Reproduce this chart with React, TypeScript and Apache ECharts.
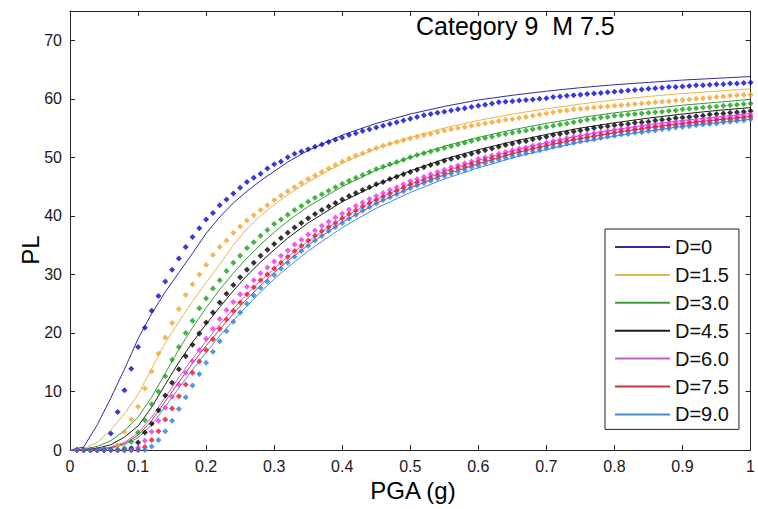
import React, { useEffect, useRef } from "react";
import * as echarts from "echarts";

// Legend / series names
const SERIES_NAMES = ["D=0", "D=1.5", "D=3.0", "D=4.5", "D=6.0", "D=7.5", "D=9.0"];
const LINE_COLORS = ["#2e2e9e", "#e9b44a", "#3a9a3a", "#1e1e1e", "#c45ccc", "#c83a3a", "#4a8ad0"];
const MARK_COLORS = ["#0808cc", "#f0a530", "#17a017", "#000000", "#f02ef0", "#e8142c", "#2a80e0"];

// x positions (PGA, g)
const LINE_X = [0, 0.02, 0.04, 0.06, 0.08, 0.1, 0.12, 0.14, 0.16, 0.18, 0.2, 0.22, 0.24, 0.26, 0.28, 0.3, 0.32, 0.35, 0.4, 0.45, 0.5, 0.55, 0.6, 0.65, 0.7, 0.75, 0.8, 0.85, 0.9, 0.95, 1.0];
const MARK_X = Array.from({ length: 100 }, (_, i) => Math.round((i + 1)) / 100);

// Solid curves (PL)
const LINE_D0 = [0, 0.5, 4.3, 8.9, 13.8, 19.0, 23.3, 27.0, 30.3, 33.6, 37.0, 39.8, 42.2, 44.2, 46.0, 47.6, 49.2, 51.2, 53.8, 55.8, 57.4, 58.7, 59.8, 60.6, 61.3, 61.9, 62.4, 62.8, 63.2, 63.5, 63.8];
const LINE_D15 = [0, 0.2, 1.3, 3.4, 6.2, 9.5, 13.9, 18.3, 21.9, 25.4, 28.6, 31.7, 35.0, 37.8, 40.0, 41.9, 43.6, 45.8, 49.0, 51.5, 53.4, 55.0, 56.3, 57.4, 58.3, 59.1, 59.8, 60.4, 60.9, 61.3, 61.7];
const LINE_D30 = [0, 0.1, 0.6, 1.6, 3.3, 5.6, 9.0, 13.1, 17.2, 20.9, 24.3, 27.4, 30.2, 32.8, 35.1, 37.2, 39.1, 41.6, 45.0, 47.8, 50.0, 51.9, 53.4, 54.7, 55.8, 56.8, 57.6, 58.3, 58.9, 59.4, 59.9];
const LINE_D45 = [0, 0, 0.3, 0.9, 2.2, 4.1, 7.3, 11.2, 15.0, 18.4, 21.5, 24.4, 27.2, 29.8, 32.1, 34.2, 36.2, 38.8, 42.4, 45.3, 47.7, 49.7, 51.3, 52.7, 53.9, 55.0, 55.9, 56.7, 57.4, 58.0, 58.5];
const LINE_D60 = [0, 0, 0.1, 0.5, 1.3, 2.9, 5.6, 9.0, 12.4, 15.6, 18.6, 21.4, 24.1, 26.6, 28.9, 31.0, 33.0, 35.7, 39.6, 42.8, 45.4, 47.6, 49.5, 51.1, 52.5, 53.7, 54.7, 55.6, 56.3, 56.9, 57.5];
const LINE_D75 = [0, 0, 0.1, 0.4, 1.1, 2.5, 5.0, 8.3, 11.6, 14.8, 17.8, 20.6, 23.3, 25.8, 28.1, 30.3, 32.3, 35.0, 38.9, 42.1, 44.8, 47.0, 48.9, 50.6, 52.0, 53.2, 54.2, 55.1, 55.8, 56.4, 57.0];
const LINE_D90 = [0, 0, 0.1, 0.3, 0.9, 2.1, 4.3, 7.4, 10.6, 13.7, 16.7, 19.5, 22.1, 24.6, 27.0, 29.2, 31.2, 34.0, 38.0, 41.3, 44.0, 46.3, 48.2, 49.9, 51.3, 52.6, 53.6, 54.5, 55.3, 55.9, 56.5];

// Diamond markers (PL at PGA = 0.01 ... 1.00)
const MARK_D0 = [
  0, 0, 0, 0, 0, 2.8, 6.5, 10.2, 13.9, 17.6,
  20.9, 23.8, 26.3, 28.8, 30.8, 32.7, 34.7, 36.4, 37.9, 39.4,
  40.5, 41.8, 42.8, 43.8, 44.8, 45.8, 46.5, 47.2, 48.1, 48.8,
  49.3, 50.0, 50.6, 51.0, 51.4, 51.8, 52.2, 52.6, 53.0, 53.4,
  53.8, 54.1, 54.5, 54.8, 55.1, 55.4, 55.7, 56.0, 56.3, 56.6,
  56.9, 57.2, 57.4, 57.6, 57.8, 58.0, 58.2, 58.4, 58.6, 58.8,
  59.0, 59.2, 59.4, 59.5, 59.6, 59.7, 59.8, 59.9, 60.0, 60.1,
  60.3, 60.4, 60.5, 60.6, 60.7, 60.8, 60.9, 61.0, 61.1, 61.2,
  61.3, 61.4, 61.5, 61.6, 61.7, 61.8, 61.9, 62.0, 62.0, 62.1,
  62.2, 62.3, 62.3, 62.4, 62.5, 62.5, 62.6, 62.6, 62.7, 62.8,
];
const MARK_D15 = [
  0, 0, 0, 0, 0, 0, 0.8, 3.1, 5.2, 7.4,
  10.5, 13.4, 16.5, 19.2, 21.7, 24.1, 26.5, 28.3, 30.0, 31.6,
  33.3, 34.7, 35.8, 37.1, 38.2, 39.2, 40.1, 41.0, 41.8, 42.7,
  43.5, 44.2, 44.9, 45.6, 46.3, 46.9, 47.5, 48.1, 48.7, 49.3,
  49.8, 50.3, 50.7, 51.2, 51.6, 52.0, 52.3, 52.6, 52.9, 53.2,
  53.5, 53.8, 54.0, 54.3, 54.6, 54.8, 55.0, 55.2, 55.4, 55.6,
  55.8, 56.0, 56.2, 56.4, 56.5, 56.7, 56.9, 57.1, 57.3, 57.5,
  57.7, 57.9, 58.0, 58.2, 58.3, 58.4, 58.5, 58.6, 58.7, 58.8,
  58.9, 59.0, 59.1, 59.2, 59.3, 59.4, 59.5, 59.6, 59.7, 59.8,
  59.9, 60.0, 60.1, 60.2, 60.3, 60.4, 60.5, 60.6, 60.7, 60.7,
];
const MARK_D30 = [
  0, 0, 0, 0, 0, 0, 0, 0.3, 1.4, 3.0,
  5.1, 7.8, 10.0, 12.6, 15.4, 17.6, 20.0, 22.1, 24.2, 25.9,
  27.6, 29.0, 30.6, 32.0, 33.2, 34.5, 35.5, 36.6, 37.6, 38.6,
  39.4, 40.2, 41.0, 41.7, 42.4, 43.1, 43.7, 44.3, 44.9, 45.5,
  46.0, 46.5, 47.0, 47.5, 48.0, 48.4, 48.8, 49.2, 49.6, 50.0,
  50.4, 50.7, 51.0, 51.3, 51.6, 51.9, 52.2, 52.5, 52.8, 53.1,
  53.3, 53.5, 53.8, 54.0, 54.2, 54.4, 54.6, 54.8, 55.0, 55.2,
  55.4, 55.6, 55.8, 56.0, 56.2, 56.4, 56.6, 56.8, 56.9, 57.1,
  57.2, 57.3, 57.4, 57.5, 57.6, 57.7, 57.8, 57.9, 58.0, 58.2,
  58.3, 58.4, 58.5, 58.6, 58.7, 58.8, 58.9, 59.0, 59.1, 59.2,
];
const MARK_D45 = [
  0, 0, 0, 0, 0, 0, 0, 0, 0.3, 1.3,
  3.0, 4.5, 6.8, 9.3, 11.5, 13.8, 16.0, 18.0, 19.9, 21.8,
  23.5, 25.2, 26.7, 28.2, 29.5, 30.8, 32.0, 33.2, 34.2, 35.2,
  36.2, 37.1, 38.0, 38.8, 39.6, 40.3, 41.0, 41.6, 42.2, 42.8,
  43.4, 43.9, 44.4, 44.9, 45.4, 45.8, 46.3, 46.7, 47.1, 47.5,
  47.9, 48.3, 48.7, 49.0, 49.4, 49.7, 50.0, 50.3, 50.6, 50.9,
  51.2, 51.5, 51.8, 52.1, 52.3, 52.6, 52.8, 53.1, 53.3, 53.5,
  53.8, 54.0, 54.2, 54.4, 54.6, 54.8, 55.0, 55.2, 55.3, 55.5,
  55.6, 55.7, 55.9, 56.0, 56.1, 56.3, 56.4, 56.5, 56.7, 56.8,
  56.9, 57.0, 57.1, 57.3, 57.4, 57.5, 57.6, 57.7, 57.8, 57.9,
];
const MARK_D60 = [
  0, 0, 0, 0, 0, 0, 0, 0, 0, 0.4,
  1.6, 3.1, 5.0, 7.2, 9.1, 11.2, 13.2, 15.2, 17.1, 19.0,
  20.7, 22.4, 23.9, 25.3, 26.6, 27.9, 29.0, 30.2, 31.2, 32.2,
  33.2, 34.1, 35.1, 35.9, 36.8, 37.5, 38.3, 39.0, 39.7, 40.4,
  41.1, 41.7, 42.3, 42.9, 43.4, 43.9, 44.4, 44.9, 45.4, 45.9,
  46.3, 46.7, 47.1, 47.5, 47.9, 48.3, 48.6, 49.0, 49.3, 49.7,
  50.0, 50.3, 50.6, 50.9, 51.2, 51.5, 51.7, 52.0, 52.2, 52.5,
  52.8, 53.0, 53.3, 53.5, 53.7, 53.9, 54.1, 54.3, 54.5, 54.7,
  54.8, 55.0, 55.1, 55.3, 55.4, 55.5, 55.7, 55.8, 56.0, 56.1,
  56.2, 56.3, 56.4, 56.6, 56.7, 56.8, 56.9, 57.0, 57.1, 57.3,
];
const MARK_D75 = [
  0, 0, 0, 0, 0, 0, 0, 0, 0, 0,
  0.5, 1.7, 3.2, 5.2, 7.1, 9.2, 11.2, 13.2, 15.1, 17.1,
  18.9, 20.7, 22.3, 23.8, 25.2, 26.6, 27.8, 29.0, 30.0, 31.0,
  32.0, 33.0, 34.0, 34.9, 35.8, 36.6, 37.4, 38.1, 38.8, 39.6,
  40.3, 40.9, 41.6, 42.2, 42.7, 43.3, 43.8, 44.3, 44.8, 45.3,
  45.7, 46.1, 46.5, 46.9, 47.3, 47.7, 48.1, 48.4, 48.8, 49.1,
  49.5, 49.8, 50.1, 50.4, 50.7, 51.0, 51.2, 51.5, 51.7, 52.0,
  52.3, 52.5, 52.8, 53.0, 53.2, 53.4, 53.6, 53.8, 54.0, 54.2,
  54.4, 54.5, 54.7, 54.8, 55.0, 55.1, 55.2, 55.4, 55.5, 55.6,
  55.8, 55.9, 56.0, 56.1, 56.3, 56.4, 56.5, 56.6, 56.7, 56.9,
];
const MARK_D90 = [
  0, 0, 0, 0, 0, 0, 0, 0, 0, 0,
  0, 0.6, 1.7, 3.2, 5.0, 7.0, 9.0, 11.0, 13.0, 14.9,
  16.8, 18.6, 20.3, 21.9, 23.5, 25.0, 26.4, 27.7, 28.8, 29.9,
  31.0, 32.0, 33.0, 34.0, 34.9, 35.8, 36.6, 37.4, 38.1, 38.8,
  39.5, 40.2, 40.9, 41.5, 42.1, 42.7, 43.2, 43.7, 44.2, 44.7,
  45.2, 45.6, 46.0, 46.4, 46.8, 47.2, 47.6, 47.9, 48.3, 48.6,
  49.0, 49.3, 49.6, 49.9, 50.2, 50.5, 50.7, 51.0, 51.2, 51.5,
  51.8, 52.0, 52.3, 52.5, 52.7, 52.9, 53.1, 53.3, 53.5, 53.7,
  53.9, 54.0, 54.2, 54.3, 54.5, 54.6, 54.8, 54.9, 55.1, 55.2,
  55.3, 55.5, 55.6, 55.7, 55.8, 56.0, 56.1, 56.2, 56.3, 56.5,
];

const X_TICKS = [0, 0.1, 0.2, 0.3, 0.4, 0.5, 0.6, 0.7, 0.8, 0.9, 1];
const Y_TICKS = [0, 10, 20, 30, 40, 50, 60, 70];

const LINES = [LINE_D0, LINE_D15, LINE_D30, LINE_D45, LINE_D60, LINE_D75, LINE_D90];
const MARKS = [MARK_D0, MARK_D15, MARK_D30, MARK_D45, MARK_D60, MARK_D75, MARK_D90];

const FONT = "'Liberation Sans', Arial, sans-serif";

export default function App() {
  const ref = useRef<HTMLDivElement>(null);
  useEffect(() => {
    if (!ref.current) return;
    const chart = echarts.init(ref.current, undefined, { renderer: "svg" });
    const axisLineStyle = { color: "#262626", width: 1 };
    const series: any[] = [];
    SERIES_NAMES.forEach((name, i) => {
      series.push({
        name,
        type: "line",
        data: LINE_X.map((x, j) => [x, LINES[i][j]]),
        showSymbol: false,
        smooth: false,
        lineStyle: { color: LINE_COLORS[i], width: 1 },
        itemStyle: { color: LINE_COLORS[i] },
        z: 2,
      });
    });
    SERIES_NAMES.forEach((name, i) => {
      series.push({
        name: name + " markers",
        type: "scatter",
        data: MARK_X.map((x, j) => [x, MARKS[i][j]]),
        symbol: "diamond",
        symbolSize: 6,
        itemStyle: { color: MARK_COLORS[i] },
        z: 3,
      });
    });
    chart.setOption({
      animation: false,
      grid: { left: 70, top: 11, right: 1, bottom: 59 },
      xAxis: [
        {
          type: "value",
          min: X_TICKS[0],
          max: X_TICKS[X_TICKS.length - 1],
          interval: 0.1,
          position: "bottom",
          axisLine: { show: true, onZero: false, lineStyle: axisLineStyle },
          axisTick: { show: true, inside: true, length: 5, lineStyle: axisLineStyle },
          axisLabel: { fontSize: 16, fontFamily: FONT, color: "#1a1a1a", margin: 8 },
          splitLine: { show: false },
        },
        {
          type: "value",
          min: X_TICKS[0],
          max: X_TICKS[X_TICKS.length - 1],
          interval: 0.1,
          position: "top",
          axisLine: { show: true, onZero: false, lineStyle: axisLineStyle },
          axisTick: { show: true, inside: true, length: 5, lineStyle: axisLineStyle },
          axisLabel: { show: false },
          splitLine: { show: false },
        },
      ],
      yAxis: [
        {
          type: "value",
          min: Y_TICKS[0],
          max: 75,
          interval: 10,
          position: "left",
          axisLine: { show: true, onZero: false, lineStyle: axisLineStyle },
          axisTick: { show: true, inside: true, length: 5, lineStyle: axisLineStyle },
          axisLabel: {
            fontSize: 16,
            fontFamily: FONT,
            color: "#1a1a1a",
            margin: 8,
            showMaxLabel: false,
            formatter: (v: number) => (Y_TICKS.includes(v) ? String(v) : ""),
          },
          splitLine: { show: false },
        },
        {
          type: "value",
          min: Y_TICKS[0],
          max: 75,
          interval: 10,
          position: "right",
          axisLine: { show: true, onZero: false, lineStyle: axisLineStyle },
          axisTick: { show: true, inside: true, length: 5, lineStyle: axisLineStyle },
          axisLabel: { show: false },
          splitLine: { show: false },
        },
      ],
      legend: {
        data: SERIES_NAMES,
        orient: "vertical",
        left: 605,
        top: 229,
        backgroundColor: "#ffffff",
        borderColor: "#222222",
        borderWidth: 1,
        borderRadius: 0,
        padding: [8, 10, 5, 10],
        itemWidth: 55,
        itemHeight: 2,
        itemGap: 7.9,
        icon: "rect",
        selectedMode: false,
        textStyle: { fontSize: 20, fontFamily: FONT, color: "#111", lineHeight: 18 },
      },
      graphic: [
        {
          type: "text",
          left: 416,
          top: 13,
          style: { text: "Category 9  M 7.5", fontSize: 25, fontFamily: FONT, fill: "#000" },
          z: 10,
        },
        {
          type: "text",
          x: 413,
          y: 490,
          style: { text: "PGA (g)", fontSize: 24, fontFamily: FONT, fill: "#000", align: "center", verticalAlign: "middle" },
        },
        {
          type: "text",
          x: 30,
          y: 250,
          rotation: Math.PI / 2,
          style: { text: "PL", fontSize: 24, fontFamily: FONT, fill: "#000", align: "center", verticalAlign: "middle" },
        },
      ],
      series,
    });
    return () => chart.dispose();
  }, []);
  return (
    <div
      ref={ref}
      style={{ position: "fixed", left: 0, top: 0, width: 758, height: 509, background: "#fff" }}
    />
  );
}
